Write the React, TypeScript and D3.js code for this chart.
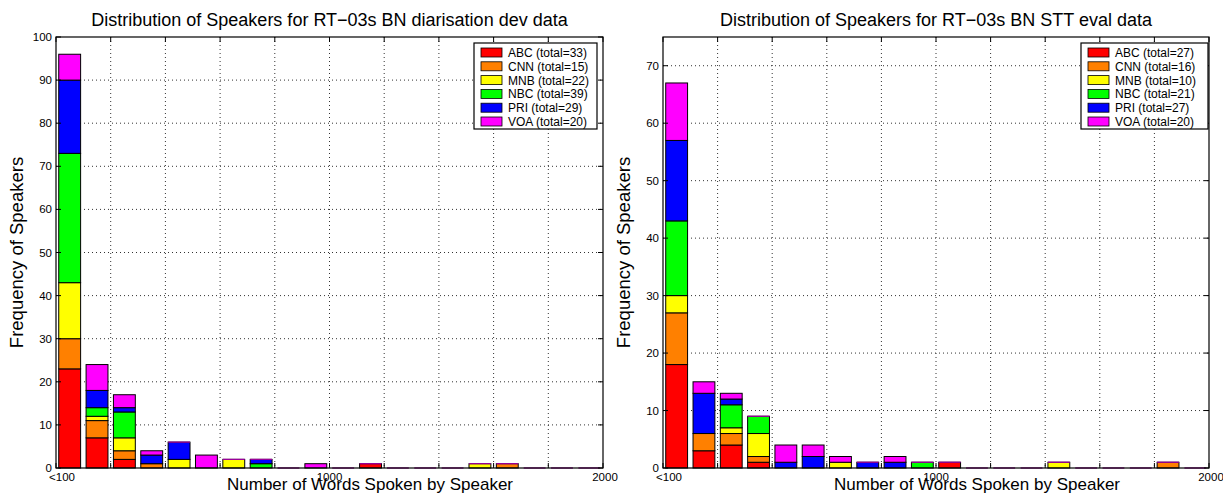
import React from 'react';
import * as d3 from 'd3';

// channels, bottom to top of each stack
const channels = ['ABC', 'CNN', 'MNB', 'NBC', 'PRI', 'VOA'];
const channelColours = ['#ff0000', '#ff8000', '#ffff00', '#00ff00', '#0000ff', '#ff00ff'];

// word-count bins (lower edge of each 100-word bin)
const binStarts = [0, 100, 200, 300, 400, 500, 600, 700, 800, 900, 1000, 1100, 1200, 1300, 1400, 1500, 1600, 1700, 1800, 1900];

// RT-03s BN diarisation dev data
const devABC = [23, 7, 2, 0, 0, 0, 0, 0, 0, 0, 0, 1, 0, 0, 0, 0, 0, 0, 0, 0];
const devCNN = [7, 4, 2, 1, 0, 0, 0, 0, 0, 0, 0, 0, 0, 0, 0, 0, 1, 0, 0, 0];
const devMNB = [13, 1, 3, 0, 2, 0, 2, 0, 0, 0, 0, 0, 0, 0, 0, 1, 0, 0, 0, 0];
const devNBC = [30, 2, 6, 0, 0, 0, 0, 1, 0, 0, 0, 0, 0, 0, 0, 0, 0, 0, 0, 0];
const devPRI = [17, 4, 1, 2, 4, 0, 0, 1, 0, 0, 0, 0, 0, 0, 0, 0, 0, 0, 0, 0];
const devVOA = [6, 6, 3, 1, 0, 3, 0, 0, 0, 1, 0, 0, 0, 0, 0, 0, 0, 0, 0, 0];

// RT-03s BN STT eval data
const evalABC = [18, 3, 4, 1, 0, 0, 0, 0, 0, 0, 1, 0, 0, 0, 0, 0, 0, 0, 0, 0];
const evalCNN = [9, 3, 2, 1, 0, 0, 0, 0, 0, 0, 0, 0, 0, 0, 0, 0, 0, 0, 1, 0];
const evalMNB = [3, 0, 1, 4, 0, 0, 1, 0, 0, 0, 0, 0, 0, 0, 1, 0, 0, 0, 0, 0];
const evalNBC = [13, 0, 4, 3, 0, 0, 0, 0, 0, 1, 0, 0, 0, 0, 0, 0, 0, 0, 0, 0];
const evalPRI = [14, 7, 1, 0, 1, 2, 0, 1, 1, 0, 0, 0, 0, 0, 0, 0, 0, 0, 0, 0];
const evalVOA = [10, 2, 1, 0, 3, 2, 1, 0, 1, 0, 0, 0, 0, 0, 0, 0, 0, 0, 0, 0];

const xTickValues = [0, 200, 400, 600, 800, 1000, 1200, 1400, 1600, 1800, 2000];
const xTickLabels = ['<100', '', '', '', '', '1000', '', '', '', '', '2000'];
const devYTicks = [0, 10, 20, 30, 40, 50, 60, 70, 80, 90, 100];
const evalYTicks = [0, 10, 20, 30, 40, 50, 60, 70];

const FONT = '"Liberation Sans", Arial, Helvetica, sans-serif';

const Panel = ({ title, series, yMax, yTicks, left, right, legendX, legendW }) => {
	const top = 37;
	const bottom = 468;

	const x = d3.scaleLinear().domain([0, 2000]).range([left, right]);
	const y = d3.scaleLinear().domain([0, yMax]).range([bottom, top]);

	const rows = binStarts.map((b, i) => {
		const row = { bin: b };
		channels.forEach((c, k) => {
			row[c] = series[k][i];
		});
		return row;
	});
	const stacked = d3.stack().keys(channels)(rows);

	const barX0 = (b) => x(b + 10);
	const barX1 = (b) => x(b + 90);

	return (
		<g>
			<text
				x={(left + right) / 2}
				y={26}
				textAnchor="middle"
				fontSize={18}
				fontFamily={FONT}
			>
				{title}
			</text>

			{/* dotted grid */}
			{yTicks.slice(1).filter((t) => y(t) > top + 1).map((t) => (
				<line key={'gy' + t} x1={left} x2={right} y1={y(t)} y2={y(t)}
					stroke="#333" strokeDasharray="1,3" strokeWidth={1} />
			))}
			{xTickValues.slice(1, -1).map((t) => (
				<line key={'gx' + t} x1={x(t)} x2={x(t)} y1={top} y2={bottom}
					stroke="#333" strokeDasharray="1,3" strokeWidth={1} />
			))}

			{/* stacked bars */}
			{stacked.map((layer, k) => (
				<g key={layer.key}>
					{layer.map((d, i) => {
						const h = y(d[0]) - y(d[1]);
						if (h <= 0) {
							if (k !== channels.length - 1) return null;
							return (
								<line key={i} x1={barX0(d.data.bin)} x2={barX1(d.data.bin)}
									y1={y(d[1])} y2={y(d[1])} stroke="#9a009a" strokeWidth={1.3} />
							);
						}
						return (
							<rect
								key={i}
								x={barX0(d.data.bin)}
								y={y(d[1])}
								width={barX1(d.data.bin) - barX0(d.data.bin)}
								height={h}
								fill={channelColours[k]}
								stroke="#000"
								strokeWidth={1}
							/>
						);
					})}
				</g>
			))}

			{/* axes box and ticks */}
			<rect x={left} y={top} width={right - left} height={bottom - top}
				fill="none" stroke="#000" strokeWidth={1.2} />
			{yTicks.map((t) => (
				<g key={'ty' + t}>
					<line x1={left} x2={left + 5} y1={y(t)} y2={y(t)} stroke="#000" />
					<line x1={right - 5} x2={right} y1={y(t)} y2={y(t)} stroke="#000" />
					<text x={left - 4} y={y(t) + 4} textAnchor="end" fontSize={11.5} fontFamily={FONT}>
						{t}
					</text>
				</g>
			))}
			{xTickValues.map((t, i) => (
				<g key={'tx' + t}>
					<line x1={x(t)} x2={x(t)} y1={bottom} y2={bottom - 5} stroke="#000" />
					<line x1={x(t)} x2={x(t)} y1={top} y2={top + 5} stroke="#000" />
					{xTickLabels[i] && (
						<text x={x(t) + (i === 0 ? 6 : i === xTickValues.length - 1 ? 2 : 0)} y={481}
							textAnchor="middle" fontSize={11.5} fontFamily={FONT}>
							{xTickLabels[i]}
						</text>
					)}
				</g>
			))}

			<text x={left + 171} y={490} fontSize={17} fontFamily={FONT}>
				Number of Words Spoken by Speaker
			</text>
			<text
				transform={`translate(${left - 33},${(top + bottom) / 2}) rotate(-90)`}
				textAnchor="middle"
				fontSize={18.5}
				fontFamily={FONT}
			>
				Frequency of Speakers
			</text>

			{/* legend */}
			<g transform={`translate(${legendX},43)`}>
				<rect x={0} y={0} width={legendW} height={86} fill="#fff" stroke="#000" strokeWidth={1.2} />
				{channels.map((c, k) => (
					<g key={c} transform={`translate(0,${5 + k * 13.8})`}>
						<rect x={7} y={0} width={21} height={9} fill={channelColours[k]} stroke="#000" strokeWidth={0.8} />
						<text x={34} y={9} fontSize={12} fontFamily={FONT}>
							{c + ' (total=' + d3.sum(series[k]) + ')'}
						</text>
					</g>
				))}
			</g>
		</g>
	);
};

const App = () => {
	return (
		<svg width={1223} height={493} style={{ position: 'absolute', left: 0, top: 0, background: '#fff' }}>
			<Panel
				title="Distribution of Speakers for RT−03s BN diarisation dev data"
				series={[devABC, devCNN, devMNB, devNBC, devPRI, devVOA]}
				yMax={100}
				yTicks={devYTicks}
				left={56}
				right={603}
				legendX={474}
				legendW={123}
			/>
			<Panel
				title="Distribution of Speakers for RT−03s BN STT eval data"
				series={[evalABC, evalCNN, evalMNB, evalNBC, evalPRI, evalVOA]}
				yMax={75}
				yTicks={evalYTicks}
				left={663}
				right={1209}
				legendX={1081}
				legendW={127}
			/>
		</svg>
	);
};

export default App;
